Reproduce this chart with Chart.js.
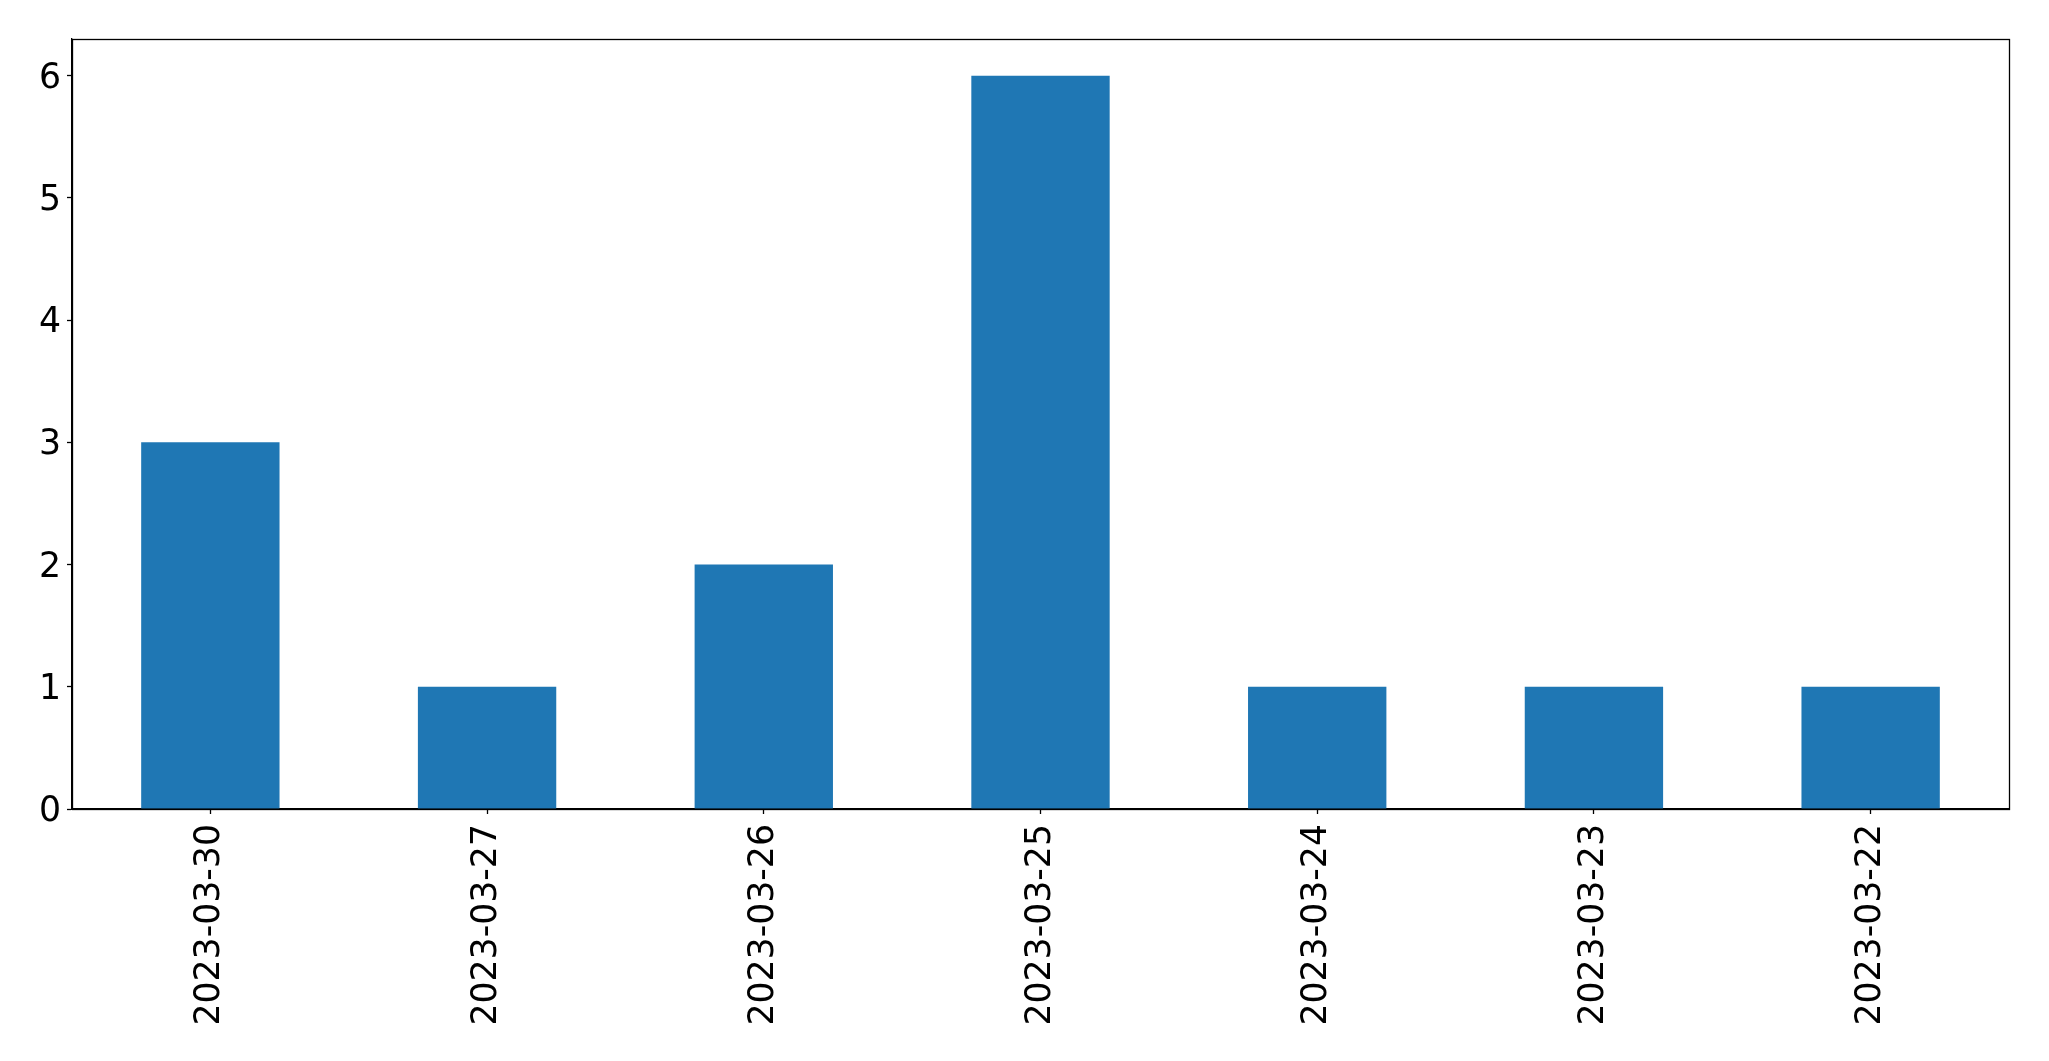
<!DOCTYPE html>
<html>
<head>
<meta charset="utf-8">
<script src="https://cdn.jsdelivr.net/npm/chart.js@4/dist/chart.umd.min.js"></script>
<style>
html,body{margin:0;padding:0;background:#fff;}
#wrap{width:2049px;height:1061px;}
</style>
</head>
<body>
<div id="wrap"><canvas id="c" width="2049" height="1061"></canvas></div>
<script>
const categories = ["2023-03-30","2023-03-27","2023-03-26","2023-03-25","2023-03-24","2023-03-23","2023-03-22"];
const counts = [3, 1, 2, 6, 1, 1, 1];
const yTicks = [0, 1, 2, 3, 4, 5, 6];

const frame = {
  id: 'frame',
  afterDraw(chart) {
    const a = chart.chartArea, ctx = chart.ctx;
    ctx.save();
    ctx.strokeStyle = '#000';
    ctx.lineWidth = 1.3;
    ctx.strokeRect(Math.round(a.left) + 0.5, Math.round(a.top) + 0.5, Math.round(a.right - a.left), Math.round(a.bottom - a.top));
    ctx.restore();
  }
};

new Chart(document.getElementById('c'), {
  type: 'bar',
  data: {
    labels: categories,
    datasets: [{
      data: counts,
      backgroundColor: '#1f77b4',
      borderWidth: 0,
      categoryPercentage: 1.0,
      barPercentage: 0.5
    }]
  },
  options: {
    responsive: false,
    animation: false,
    devicePixelRatio: 1,
    layout: { padding: { top: 39, right: 40, left: 0, bottom: 0 } },
    plugins: { legend: { display: false }, tooltip: { enabled: false } },
    scales: {
      x: {
        grid: { display: true, offset: false, drawOnChartArea: false, drawTicks: true, tickLength: 5, tickColor: '#000', tickWidth: 1.3 },
        border: { display: true, color: '#000', width: 1.3 },
        ticks: {
          color: '#000', font: { family: 'DejaVu Sans', size: 34.7 },
          minRotation: 90, maxRotation: 90, autoSkip: false, padding: 10
        },
        afterFit(scale) { scale.height = 252; }
      },
      y: {
        min: 0, max: 6.3,
        afterBuildTicks(scale) { scale.ticks = yTicks.map(v => ({ value: v })); },
        grid: { display: true, drawOnChartArea: false, drawTicks: true, tickLength: 5, tickColor: '#000', tickWidth: 1.3 },
        border: { display: true, color: '#000', width: 1.3 },
        ticks: {
          color: '#000', font: { family: 'DejaVu Sans', size: 34.7 }, padding: 6, labelOffset: 3
        },
        afterFit(scale) { scale.width = 72; }
      }
    }
  },
  plugins: [frame]
});
</script>
</body>
</html>
